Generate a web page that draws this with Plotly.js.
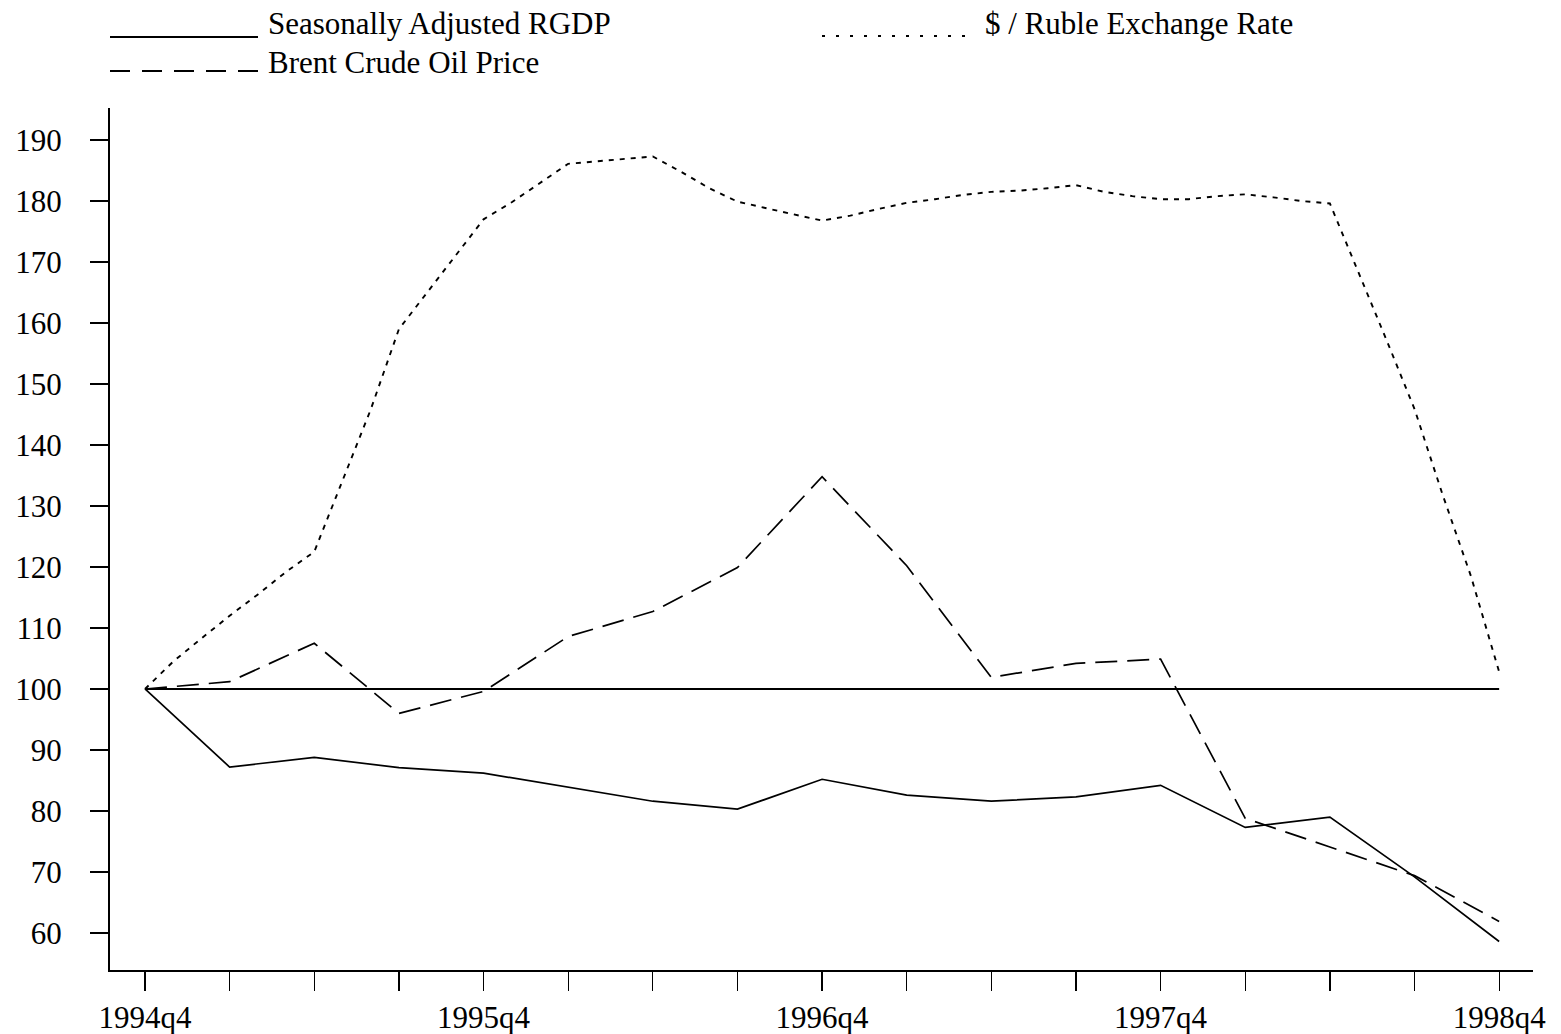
<!DOCTYPE html>
<html>
<head>
<meta charset="utf-8">
<script src="https://cdn.plot.ly/plotly-3.0.1.min.js"></script>
<style>html,body{margin:0;padding:0;background:#fff;}#chart{width:1561px;height:1034px;}</style>
</head>
<body>
<div id="chart"></div>
<script>
// Quarterly categories (x axis)
const quarters = ['1994q4','1995q1','1995q2','1995q3','1995q4','1996q1','1996q2','1996q3','1996q4',
                  '1997q1','1997q2','1997q3','1997q4','1998q1','1998q2','1998q3','1998q4'];
// Seasonally adjusted real GDP index (quarterly)
const rgdp = [100, 87.2, 88.8, 87.1, 86.2, 83.9, 81.6, 80.3, 85.2, 82.6, 81.6, 82.3, 84.2, 77.3, 79.0, 69.2, 58.6];
// Brent crude oil price index (quarterly)
const brent = [100, 101.2, 107.5, 96.0, 99.6, 108.6, 112.7, 119.9, 134.8, 120.2, 101.9, 104.2, 104.9, 78.8, 74.1, 69.4, 61.9];
// $ / Ruble exchange rate index (monthly, Dec 1994 - Dec 1998)
const ruble = [100, 104.5, 108.3, 112.0, 115.5, 119.2, 122.5, 134.2, 145.8, 159.0, 165.0, 171.1,
               177.0, 179.8, 182.9, 186.1, 186.5, 186.9, 187.3, 184.8, 182.1, 179.9, 178.8, 177.8,
               176.8, 177.6, 178.7, 179.7, 180.3, 181.0, 181.5, 181.7, 182.1, 182.6, 181.5, 180.8,
               180.3, 180.3, 180.8, 181.1, 180.6, 180.0, 179.6, 168.5, 157.3, 145.9, 131.8, 118.5, 102.8];
const baseValue = 100;
const yTicks = [60, 70, 80, 90, 100, 110, 120, 130, 140, 150, 160, 170, 180, 190];
const seriesNames = ['Seasonally Adjusted RGDP', '$ / Ruble Exchange Rate', 'Brent Crude Oil Price'];

const qIdx = quarters.map((q, i) => i);
const mIdx = ruble.map((v, i) => i / 3);
const tickText = quarters.map(q => q.endsWith('q4') ? q : '');

const FONT = 'Liberation Serif, Times New Roman, serif';

const traces = [
  {x: mIdx, y: ruble, type: 'scatter', mode: 'lines', name: seriesNames[1],
   line: {color: '#000', width: 1.9, dash: '5px,6px'}, hoverinfo: 'skip'},
  {x: qIdx, y: brent, type: 'scatter', mode: 'lines', name: seriesNames[2],
   line: {color: '#000', width: 1.7, dash: '22px,10px'}, hoverinfo: 'skip'},
  {x: qIdx, y: rgdp, type: 'scatter', mode: 'lines', name: seriesNames[0],
   line: {color: '#000', width: 1.7}, hoverinfo: 'skip'}
];

const L = 110, R = 1533, T = 108, B = 970;
const px = v => (v - L) / (R - L);
const py = v => (B - v) / (B - T);

const shapes = [
  {type: 'line', xref: 'x', yref: 'y', x0: 0, x1: quarters.length - 1, y0: baseValue, y1: baseValue,
   line: {color: '#000', width: 2}, layer: 'below'},
  {type: 'line', xref: 'paper', yref: 'paper', x0: px(110), x1: px(258), y0: py(37), y1: py(37),
   line: {color: '#000', width: 2}},
  {type: 'line', xref: 'paper', yref: 'paper', x0: px(822), x1: px(976), y0: py(36), y1: py(36),
   line: {color: '#000', width: 1.8, dash: '3px,11px'}},
  {type: 'line', xref: 'paper', yref: 'paper', x0: px(110), x1: px(258), y0: py(71), y1: py(71),
   line: {color: '#000', width: 2, dash: '20px,12px'}}
];

const annotations = [
  {text: seriesNames[0], x: px(266), y: py(23), xref: 'paper', yref: 'paper', xanchor: 'left', yanchor: 'middle', showarrow: false},
  {text: seriesNames[1], x: px(983), y: py(23), xref: 'paper', yref: 'paper', xanchor: 'left', yanchor: 'middle', showarrow: false},
  {text: seriesNames[2], x: px(266), y: py(62), xref: 'paper', yref: 'paper', xanchor: 'left', yanchor: 'middle', showarrow: false}
].map(a => Object.assign(a, {font: {family: FONT, size: 31, color: '#000'}}));

const layout = {
  width: 1561, height: 1034,
  margin: {l: L, r: 1561 - R, t: T, b: 1034 - B, pad: 0},
  paper_bgcolor: '#fff', plot_bgcolor: '#fff',
  showlegend: false,
  font: {family: FONT, size: 31, color: '#000'},
  xaxis: {
    range: [-0.4136, 16.40], tickvals: qIdx, ticktext: tickText,
    showgrid: false, zeroline: false, showline: true, linecolor: '#000', linewidth: 2,
    ticks: 'outside', ticklen: 19, tickwidth: 1.3, tickcolor: '#000',
    tickfont: {family: FONT, size: 31, color: '#000'}, fixedrange: true
  },
  yaxis: {
    range: [53.93, 195.25], tickvals: yTicks, ticktext: yTicks.map(String),
    showgrid: false, zeroline: false, showline: true, linecolor: '#000', linewidth: 2,
    ticks: 'outside', ticklen: 18, tickwidth: 1.5, tickcolor: '#000', ticklabelstandoff: 22,
    tickfont: {family: FONT, size: 31, color: '#000'}, fixedrange: true
  },
  shapes: shapes,
  annotations: annotations
};

Plotly.newPlot('chart', traces, layout, {displayModeBar: false, staticPlot: true});
</script>
</body>
</html>
